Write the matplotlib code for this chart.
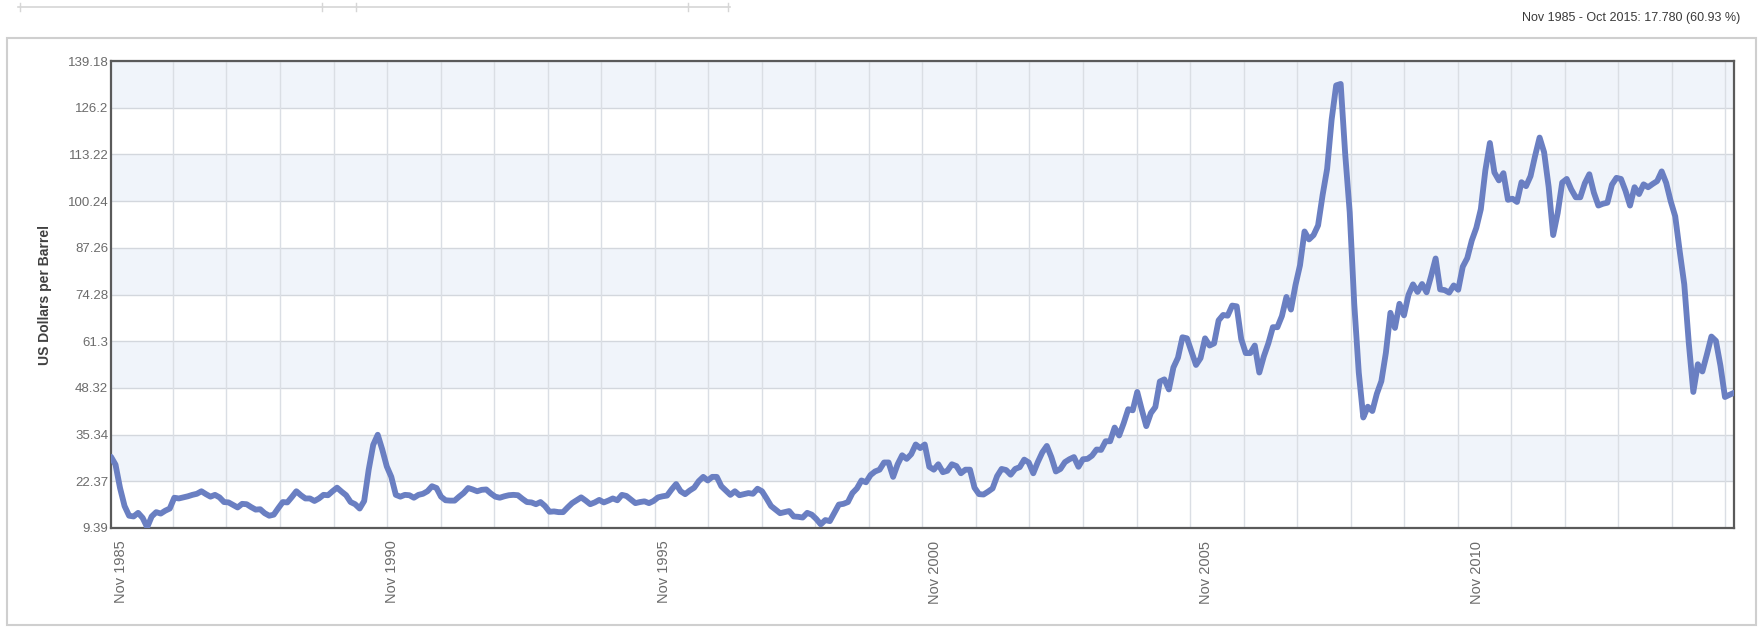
import numpy as np
import matplotlib
matplotlib.use("Agg")
import matplotlib.pyplot as plt
from matplotlib.patches import Rectangle
from matplotlib.lines import Line2D
from matplotlib.transforms import ScaledTranslation

plt.rcParams['font.family'] = ['Liberation Sans', 'DejaVu Sans']

# monthly crude oil price, US$ per barrel, Nov 1985 .. Oct 2015
p1985 = [29.18, 27.0]
p1986 = [20.5, 15.5, 12.8, 12.6, 13.6, 12.2, 9.6, 12.6, 13.8, 13.4, 14.2, 14.8]
p1987 = [17.8, 17.6, 17.9, 18.2, 18.6, 18.9, 19.6, 18.8, 18.1, 18.6, 17.9, 16.6]
p1988 = [16.5, 15.8, 15.1, 16.1, 16.0, 15.2, 14.5, 14.6, 13.5, 12.8, 13.1, 14.9]
p1989 = [16.6, 16.5, 18.0, 19.6, 18.5, 17.6, 17.6, 16.9, 17.6, 18.6, 18.5, 19.6]
p1990 = [20.6, 19.5, 18.5, 16.6, 16.0, 14.8, 16.9, 25.6, 32.5, 35.3, 31.2, 26.5]
p1991 = [23.6, 18.6, 18.1, 18.6, 18.5, 17.8, 18.6, 18.9, 19.6, 21.0, 20.5, 18.1]
p1992 = [17.1, 17.0, 17.0, 18.1, 19.1, 20.5, 20.1, 19.6, 20.0, 20.1, 19.0, 18.1]
p1993 = [17.8, 18.2, 18.5, 18.6, 18.5, 17.5, 16.6, 16.5, 16.0, 16.6, 15.5, 13.9]
p1994 = [14.0, 13.8, 13.8, 15.1, 16.3, 17.1, 17.9, 17.0, 16.0, 16.5, 17.2, 16.5]
p1995 = [17.0, 17.6, 17.1, 18.6, 18.3, 17.3, 16.3, 16.6, 16.8, 16.3, 16.9, 17.9]
p1996 = [18.2, 18.4, 20.1, 21.6, 19.6, 18.8, 19.8, 20.6, 22.4, 23.6, 22.6, 23.6]
p1997 = [23.6, 21.0, 19.8, 18.6, 19.6, 18.5, 18.8, 19.1, 18.9, 20.3, 19.6, 17.6]
p1998 = [15.5, 14.5, 13.5, 13.8, 14.1, 12.6, 12.5, 12.3, 13.6, 13.1, 11.9, 10.4]
p1999 = [11.6, 11.3, 13.6, 15.9, 16.1, 16.6, 19.1, 20.4, 22.6, 22.1, 24.1, 25.1]
p2000 = [25.6, 27.6, 27.6, 23.6, 27.1, 29.6, 28.6, 29.9, 32.6, 31.6, 32.6, 26.4]
p2001 = [25.6, 27.1, 24.9, 25.3, 27.1, 26.6, 24.6, 25.6, 25.6, 20.6, 18.8, 18.7]
p2002 = [19.5, 20.4, 23.8, 25.8, 25.5, 24.2, 25.8, 26.3, 28.4, 27.6, 24.6, 27.7]
p2003 = [30.4, 32.2, 29.1, 25.1, 25.8, 27.7, 28.5, 29.1, 26.4, 28.5, 28.6, 29.5]
p2004 = [31.2, 31.1, 33.5, 33.5, 37.3, 35.1, 38.5, 42.4, 42.1, 47.2, 42.3, 37.7]
p2005 = [41.3, 43.0, 50.1, 50.7, 47.9, 54.0, 56.7, 62.4, 62.1, 58.4, 54.7, 56.6]
p2006 = [62.1, 60.1, 60.7, 67.1, 68.6, 68.4, 71.2, 71.0, 61.9, 58.0, 58.0, 60.1]
p2007 = [52.6, 57.1, 60.7, 65.2, 65.2, 68.3, 73.6, 70.1, 76.9, 82.4, 91.8, 89.6]
p2008 = [90.8, 93.5, 101.9, 109.2, 122.9, 132.4, 132.8, 113.3, 97.1, 71.7, 52.6, 40.1]
p2009 = [43.1, 41.9, 46.7, 50.2, 58.1, 69.2, 65.0, 71.7, 68.5, 74.2, 77.1, 75.0]
p2010 = [77.2, 74.9, 79.4, 84.3, 75.7, 75.5, 74.8, 76.8, 75.6, 82.0, 84.4, 89.3]
p2011 = [92.8, 98.0, 108.8, 116.4, 108.2, 106.0, 108.0, 100.6, 100.9, 100.0, 105.5, 104.4]
p2012 = [107.2, 112.8, 117.9, 113.8, 104.2, 90.8, 96.9, 105.4, 106.4, 103.5, 101.3, 101.3]
p2013 = [105.2, 107.7, 102.6, 99.0, 99.5, 99.8, 104.8, 106.7, 106.4, 103.1, 99.0, 104.1]
p2014 = [102.2, 104.9, 104.1, 105.0, 105.8, 108.5, 105.3, 100.2, 96.0, 86.2, 77.1, 60.8]
p2015 = [47.2, 54.9, 52.9, 57.6, 62.6, 61.4, 54.5, 45.8, 46.4, 46.96]

prices = (p1985 + p1986 + p1987 + p1988 + p1989 + p1990 + p1991 + p1992
          + p1993 + p1994 + p1995 + p1996 + p1997 + p1998 + p1999 + p2000
          + p2001 + p2002 + p2003 + p2004 + p2005 + p2006 + p2007 + p2008
          + p2009 + p2010 + p2011 + p2012 + p2013 + p2014 + p2015)

y_ticks = [9.39, 22.37, 35.34, 48.32, 61.3, 74.28, 87.26, 100.24, 113.22, 126.2, 139.18]
y_labels = ["9.39", "22.37", "35.34", "48.32", "61.3", "74.28", "87.26",
            "100.24", "113.22", "126.2", "139.18"]
x_label_idx = [0, 60, 120, 180, 240, 300]
x_labels = ["Nov 1985", "Nov 1990", "Nov 1995", "Nov 2000", "Nov 2005", "Nov 2010"]
summary = "Nov 1985 - Oct 2015: 17.780 (60.93 %)"

W, H = 1762, 627
fig = plt.figure(figsize=(W / 100, H / 100), dpi=100)
fig.patch.set_facecolor("white")

# outer panel frame
fig.add_artist(Rectangle((7 / W, 1 - 625 / H), (1756 - 7) / W, (625 - 38) / H,
                         transform=fig.transFigure, fill=False,
                         edgecolor="#cfcfcf", lw=1.5))
# faint slider bar at the very top
fig.add_artist(Line2D([18 / W, 730 / W], [1 - 7 / H, 1 - 7 / H],
                      transform=fig.transFigure, color="#d6d6d6", lw=1.2))
for px in [20, 322, 356, 688, 728]:
    fig.add_artist(Line2D([px / W, px / W], [1 - 3 / H, 1 - 11 / H],
                          transform=fig.transFigure, color="#d6d6d6", lw=1))

ax = fig.add_axes([111 / W, 1 - 528 / H, (1734 - 111) / W, (528 - 61) / H])
x = np.arange(len(prices))
ax.set_xlim(0, len(prices) - 1)
ax.set_ylim(y_ticks[0], y_ticks[-1])

# alternating horizontal bands
for i in range(len(y_ticks) - 1):
    if i % 2 == 1:
        ax.axhspan(y_ticks[i], y_ticks[i + 1], color="#f0f4fa", lw=0, zorder=0)

for yv in y_ticks:
    ax.axhline(yv, color="#d3d7dd", lw=1, zorder=1)
for xv in np.linspace(13.7, 357.1, 30):
    ax.axvline(xv, color="#dadee4", lw=1, zorder=1)

ax.plot(x, prices, color="#6a7fc2", lw=4.2, solid_joinstyle="round",
        solid_capstyle="round", zorder=3)

ax.set_yticks(y_ticks)
ax.set_yticklabels(y_labels)
ax.set_xticks(x_label_idx)
ax.set_xticklabels(x_labels, rotation=90, va="top", ha="center")
ax.tick_params(axis="both", length=0, colors="#6b6b6b")
ax.tick_params(axis="y", labelsize=9.5, pad=2)
ax.tick_params(axis="x", labelsize=10.5, pad=9)
for lab in ax.get_xticklabels():
    lab.set_transform(lab.get_transform() + ScaledTranslation(10 / 100, 0, fig.dpi_scale_trans))

for sp in ax.spines.values():
    sp.set_color("#5a5a5a")
    sp.set_linewidth(1.6)

fig.text(45 / W, 1 - 295 / H, "US Dollars per Barrel", rotation=90,
         ha="center", va="center", fontsize=10, fontweight="bold", color="#404040")
fig.text(1740 / W, 1 - 18 / H, summary, ha="right", va="center",
         fontsize=9, color="#3a3a3a")

fig.savefig("out.png", dpi=100)
